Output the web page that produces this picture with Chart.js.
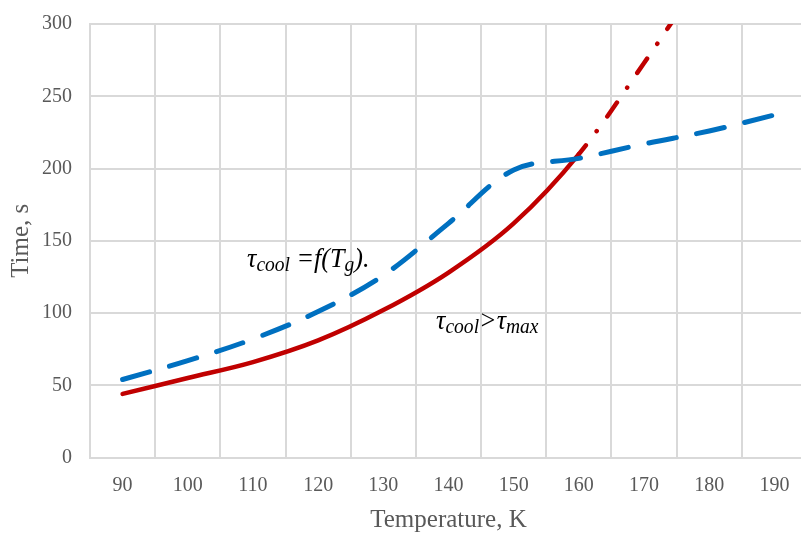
<!DOCTYPE html>
<html>
<head>
<meta charset="utf-8">
<script src="https://cdn.jsdelivr.net/npm/chart.js@4.4.1/dist/chart.umd.min.js"></script>
<style>
  html, body { margin: 0; padding: 0; background: #fff; overflow: hidden; }
  #wrap { width: 810px; height: 533px; }
</style>
</head>
<body>
<div id="wrap"><canvas id="chart" width="810" height="533"></canvas></div>
<script>
// temperature, K
var temperatures = ['90', '100', '110', '120', '130', '140', '150', '160', '170', '180', '190'];
// cooling time tau_cool = f(Tg), s (blue dashed)
var coolTime = [54, 67, 82, 101, 126, 162, 199, 207, 217, 226, 237];
// red curve, s (solid up to 160 K, then dash-dot)
var limitTime = [44, 55, 66, 81, 102, 128, 162, 210, 273, 340, null];
var dashFrom = 7; // index of 160 K

var serif = 'Liberation Serif';
var gridColor = '#d9d9d9';
var textGray = '#595959';

// labels written on the plot
var notes = [
    { at: [1.91, 131.8], parts: [['τ', 0], ['cool', 1], [' =', 0], ['f(T', 0], ['g', 1], [').', 0]] },
    { at: [4.81, 88.9], parts: [['τ', 0], ['cool', 1], ['>', 0], ['τ', 0], ['max', 1]] }
];

var notePlugin = {
    id: 'notes',
    afterDatasetsDraw: function(chart) {
        var ctx = chart.ctx;
        var xs = chart.scales.x, ys = chart.scales.y;
        notes.forEach(function(n) {
            ctx.save();
            ctx.fillStyle = '#000';
            ctx.textBaseline = 'alphabetic';
            ctx.translate(xs.getPixelForValue(n.at[0]), ys.getPixelForValue(n.at[1]));
            ctx.scale(0.93, 1); // text in the picture is a bit narrow
            var x = 0;
            n.parts.forEach(function(p) {
                ctx.font = p[1] ? 'italic 21px "' + serif + '"' : 'italic 28px "' + serif + '"';
                ctx.fillText(p[0], x, p[1] ? 4 : 0);
                x += ctx.measureText(p[0]).width;
            });
            ctx.restore();
        });
    }
};

new Chart(document.getElementById('chart'), {
    type: 'line',
    data: {
        labels: temperatures,
        datasets: [{
            data: coolTime,
            borderColor: '#0070c0',
            borderWidth: 5,
            borderDash: [28, 21],
            borderCapStyle: 'round',
            tension: 0.35
        }, {
            data: limitTime,
            borderColor: '#c00000',
            borderWidth: 4.5,
            borderCapStyle: 'round',
            tension: 0.35,
            segment: {
                // dash-dot after 160 K
                borderDash: function(c) { return c.p0DataIndex >= dashFrom ? [17, 18, 0.1, 18] : undefined; },
                borderDashOffset: function(c) { return c.p0DataIndex >= dashFrom ? 6 : undefined; }
            }
        }]
    },
    options: {
        responsive: false,
        animation: false,
        layout: { padding: { top: 24, right: 3, left: 0, bottom: 0 } },
        plugins: { legend: { display: false }, tooltip: { enabled: false } },
        elements: { point: { radius: 0 } },
        scales: {
            x: {
                offset: true,
                grid: { offset: true, color: gridColor, lineWidth: 2, drawTicks: false },
                border: { color: gridColor, width: 2 },
                ticks: { color: textGray, font: { family: serif, size: 20 }, padding: 16, maxRotation: 0, autoSkip: false },
                title: { display: true, text: 'Temperature, K', color: textGray, font: { family: serif, size: 25, lineHeight: 1 }, padding: 0 },
                afterFit: function(s) {
                    s.height = 75.5;
                    s.paddingLeft = 0;
                    s.paddingRight = 0;
                }
            },
            y: {
                min: 0,
                max: 300,
                grid: { color: gridColor, lineWidth: 2, drawTicks: false },
                border: { color: gridColor, width: 2 },
                ticks: { stepSize: 50, color: textGray, font: { family: serif, size: 20 }, padding: 18 },
                title: { display: true, text: 'Time, s', color: textGray, font: { family: serif, size: 25, lineHeight: 1 }, padding: { top: 9, bottom: 0 } },
                afterFit: function(s) {
                    s.width = 90;
                    s.paddingTop = 0;
                    s.paddingBottom = 0;
                }
            }
        }
    },
    plugins: [notePlugin]
});
</script>
</body>
</html>
